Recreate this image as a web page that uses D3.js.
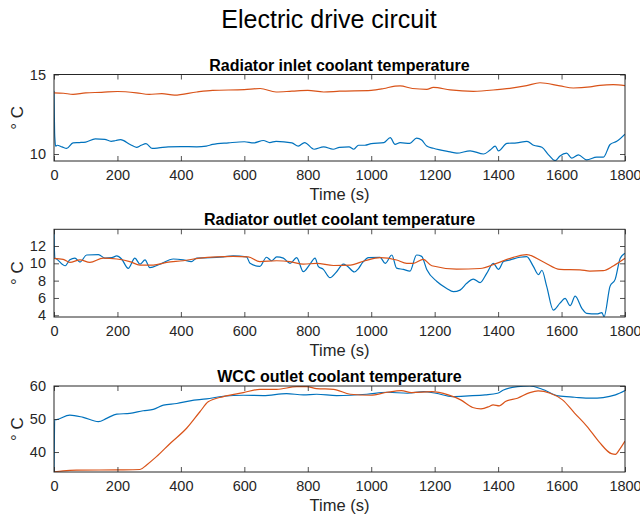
<!DOCTYPE html>
<html><head><meta charset="utf-8">
<script src="https://cdn.jsdelivr.net/npm/d3@7"></script>
<style>body{margin:0;background:#fff}svg{display:block}text{font-family:"Liberation Sans",Arial,sans-serif}</style>
</head><body><svg id="c" width="640" height="515"></svg>
<script>
const figTitle = "Electric drive circuit";
const plotTitles = ["Radiator inlet coolant temperature","Radiator outlet coolant temperature","WCC outlet coolant temperature"];
const xTicks = [0,200,400,600,800,1000,1200,1400,1600,1800];
const yTicks1 = [10,15];
const yTicks2 = [4,6,8,10,12];
const yTicks3 = [40,50,60];
const yDomain1 = [9.56,15];
const yDomain2 = [3.8,13.93];
const yDomain3 = [33.95,60];

// Subplot 1
const inletBlue = [[0,13.97],[1,12.5],[2,11.3],[3,10.9],[5,10.5],[10,10.55],[25,10.45],[40,10.35],[60,10.7],[80,10.72],[100,10.75],[130,10.95],[160,10.92],[180,10.8],[195,10.85],[210,10.9],[240,10.6],[260,10.42],[275,10.55],[290,10.65],[310,10.35],[330,10.38],[360,10.45],[400,10.47],[450,10.45],[480,10.5],[500,10.6],[550,10.7],[600,10.77],[630,10.7],[660,10.85],[680,10.72],[700,10.8],[750,10.7],[770,10.5],[790,10.72],[820,10.3],[850,10.45],[880,10.3],[900,10.42],[930,10.45],[945,10.3],[960,10.55],[980,10.55],[1000,10.65],[1040,10.72],[1060,11.03],[1075,10.6],[1091,10.71],[1122,10.67],[1143,11.0],[1159,10.88],[1175,10.5],[1196,10.36],[1249,10.13],[1270,10.05],[1312,10.2],[1354,10.0],[1375,10.25],[1391,10.5],[1401,10.2],[1428,10.67],[1459,10.7],[1491,10.8],[1512,10.55],[1538,10.42],[1559,9.95],[1580,9.58],[1595,9.88],[1616,10.05],[1632,9.74],[1653,9.95],[1679,9.63],[1711,9.8],[1732,9.8],[1753,10.6],[1774,10.8],[1800,11.25]];
const inletOrange = [[0,13.85],[30,13.82],[60,13.75],[100,13.85],[150,13.88],[200,13.93],[260,13.85],[300,13.75],[340,13.8],[380,13.7],[450,13.9],[500,14.0],[600,14.05],[650,14.12],[700,13.9],[750,13.95],[800,14.0],[850,13.9],[900,13.95],[1000,14.0],[1040,14.12],[1075,14.27],[1091,14.28],[1130,14.12],[1175,14.07],[1196,14.19],[1249,14.03],[1322,13.94],[1406,14.07],[1437,14.13],[1490,14.3],[1532,14.48],[1595,14.28],[1637,14.15],[1690,14.22],[1721,14.32],[1763,14.36],[1800,14.3]];

// Subplot 2
const outletBlue = [[0,13.9],[1,12.0],[3,10.6],[8,10.5],[35,9.72],[50,10.4],[66,10.6],[82,10.15],[103,10.96],[140,11.0],[161,10.6],[182,10.65],[198,10.85],[213,10.5],[234,9.42],[255,10.6],[271,9.9],[287,10.4],[302,9.5],[334,9.9],[376,10.5],[407,10.4],[433,10.2],[450,10.6],[492,10.65],[534,10.75],[565,10.85],[607,10.75],[618,10.0],[649,9.65],[670,10.7],[686,10.3],[702,10.75],[723,10.6],[744,10.0],[765,10.65],[786,9.03],[807,9.9],[823,10.6],[833,9.65],[849,9.3],[870,8.34],[891,9.03],[912,9.9],[924,9.7],[947,9.0],[960,9.4],[973,10.1],[992,10.66],[1028,10.69],[1044,10.0],[1065,10.96],[1080,9.45],[1101,9.3],[1122,9.1],[1143,10.96],[1159,10.8],[1175,9.3],[1207,7.9],[1238,7.1],[1259,6.72],[1280,6.9],[1301,7.69],[1322,8.18],[1343,7.78],[1364,8.84],[1385,10.0],[1401,9.3],[1417,10.2],[1438,10.4],[1469,10.7],[1490,10.77],[1511,9.65],[1527,8.69],[1538,9.2],[1553,7.37],[1574,4.6],[1595,5.4],[1611,5.95],[1627,5.1],[1643,6.2],[1664,4.8],[1679,4.22],[1711,4.15],[1727,4.3],[1734,3.85],[1753,7.37],[1769,8.15],[1785,10.58],[1800,11.15]];
const outletOrange = [[0,10.58],[29,10.46],[50,10.1],[82,10.4],[113,10.1],[155,10.6],[198,10.5],[239,10.2],[271,9.8],[313,9.8],[355,10.1],[407,10.3],[460,10.6],[513,10.75],[565,10.8],[612,10.75],[649,10.2],[702,10.3],[744,10.2],[786,9.9],[828,10.0],[881,9.75],[934,9.8],[980,10.3],[1028,10.65],[1080,10.38],[1112,10.0],[1133,10.0],[1164,10.46],[1191,9.72],[1269,9.34],[1343,9.4],[1395,10.0],[1448,10.69],[1490,11.0],[1543,10.15],[1595,9.3],[1658,9.25],[1689,9.1],[1731,9.15],[1763,9.7],[1800,10.58]];

// Subplot 3
const wccBlue = [[0,34.0],[1,42],[2,49.7],[8,49.8],[50,51.2],[92,50.5],[140,49.2],[166,50.2],[198,51.5],[239,51.7],[281,52.5],[313,52.9],[345,54.2],[387,54.7],[429,55.5],[481,56.1],[534,56.9],[597,57.2],[660,57.1],[733,57.7],[786,57.3],[828,57.5],[891,57.1],[986,57.5],[1050,58.1],[1114,57.8],[1166,58.3],[1204,57.8],[1256,56.8],[1307,57.0],[1359,57.3],[1398,57.8],[1417,58.8],[1461,59.8],[1500,60.0],[1539,59.0],[1590,57.0],[1641,56.6],[1693,56.3],[1731,56.5],[1770,57.3],[1800,58.6]];
const wccOrange = [[0,34.0],[29,34.3],[71,34.5],[198,34.6],[271,34.7],[292,36.1],[323,38.6],[366,42.6],[418,47.2],[460,52.2],[486,55.2],[534,56.8],[597,58.0],[649,59.0],[702,59.0],[765,59.8],[797,59.8],[828,59.2],[881,59.0],[934,57.5],[998,57.2],[1050,58.1],[1095,58.6],[1127,58.0],[1191,58.3],[1243,57.3],[1282,55.8],[1320,53.5],[1346,53.1],[1372,53.8],[1384,54.3],[1404,54.0],[1423,55.3],[1461,56.3],[1500,58.0],[1526,58.5],[1564,57.8],[1603,55.8],[1641,51.8],[1680,47.8],[1719,43.0],[1757,39.5],[1770,39.3],[1783,40.8],[1800,43.3]];

const BLUE = "#0072BD", ORANGE = "#D95319", AX = "#262626";
const svg = d3.select("#c");
const L = 54, R = 625;
const x = d3.scaleLinear().domain([0,1800]).range([L,R]);

svg.append("text").attr("x",329).attr("y",28).attr("text-anchor","middle")
  .attr("font-size",25).attr("fill","#000").text(figTitle);

const panels = [
  {top:74.5,bottom:161,dom:yDomain1,ticks:yTicks1,series:[inletBlue,inletOrange]},
  {top:229.3,bottom:317,dom:yDomain2,ticks:yTicks2,series:[outletBlue,outletOrange]},
  {top:386,bottom:472,dom:yDomain3,ticks:yTicks3,series:[wccBlue,wccOrange]}
];

panels.forEach((p,i)=>{
  const y = d3.scaleLinear().domain(p.dom).range([p.bottom,p.top]);
  const g = svg.append("g");
  const cid = "clip"+i;
  svg.append("clipPath").attr("id",cid).append("rect")
    .attr("x",L).attr("y",p.top).attr("width",R-L).attr("height",p.bottom-p.top);
  const line = d3.line().curve(d3.curveMonotoneX).x(d=>x(d[0])).y(d=>y(d[1]));
  [BLUE,ORANGE].forEach((c,k)=>{
    g.append("path").attr("d",line(p.series[k])).attr("fill","none")
      .attr("stroke",c).attr("stroke-width",1.2).attr("clip-path",`url(#${cid})`);
  });
  const ax = g.append("g").attr("transform",`translate(0,${p.bottom})`)
    .call(d3.axisBottom(x).tickValues(xTicks).tickSizeInner(-5).tickSizeOuter(0).tickPadding(9).tickFormat(d3.format("d")));
  const axT = g.append("g").attr("transform",`translate(0,${p.top})`)
    .call(d3.axisTop(x).tickValues(xTicks).tickSizeInner(-5).tickSizeOuter(0).tickFormat(""));
  const ay = g.append("g").attr("transform",`translate(${L},0)`)
    .call(d3.axisLeft(y).tickValues(p.ticks).tickSizeInner(-5).tickSizeOuter(0).tickPadding(8).tickFormat(d3.format("d")));
  const ayR = g.append("g").attr("transform",`translate(${R},0)`)
    .call(d3.axisRight(y).tickValues(p.ticks).tickSizeInner(-5).tickSizeOuter(0).tickFormat(""));
  [ax,axT,ay,ayR].forEach(a=>{
    a.select(".domain").remove();
    a.selectAll("line").attr("stroke",AX).attr("stroke-width",0.8);
    a.selectAll("text").attr("fill",AX).attr("font-size",14.5).attr("font-family",'"Liberation Sans",Arial,sans-serif');
  });
  g.append("rect").attr("x",L).attr("y",p.top).attr("width",R-L).attr("height",p.bottom-p.top)
    .attr("fill","none").attr("stroke",AX).attr("stroke-width",1);
  g.append("text").attr("x",(L+R)/2).attr("y",p.top-4).attr("text-anchor","middle")
    .attr("font-size",16).attr("font-weight","bold").attr("fill","#000").text(plotTitles[i]);
  g.append("text").attr("x",(L+R)/2 - 0).attr("y",p.bottom+39).attr("text-anchor","middle")
    .attr("font-size",16.5).attr("fill",AX).text("Time (s)");
  g.append("text").attr("transform",`translate(23,${(p.top+p.bottom)/2}) rotate(-90)`)
    .attr("text-anchor","middle").attr("font-size",17).attr("fill",AX).text("° C");
});
</script></body></html>
